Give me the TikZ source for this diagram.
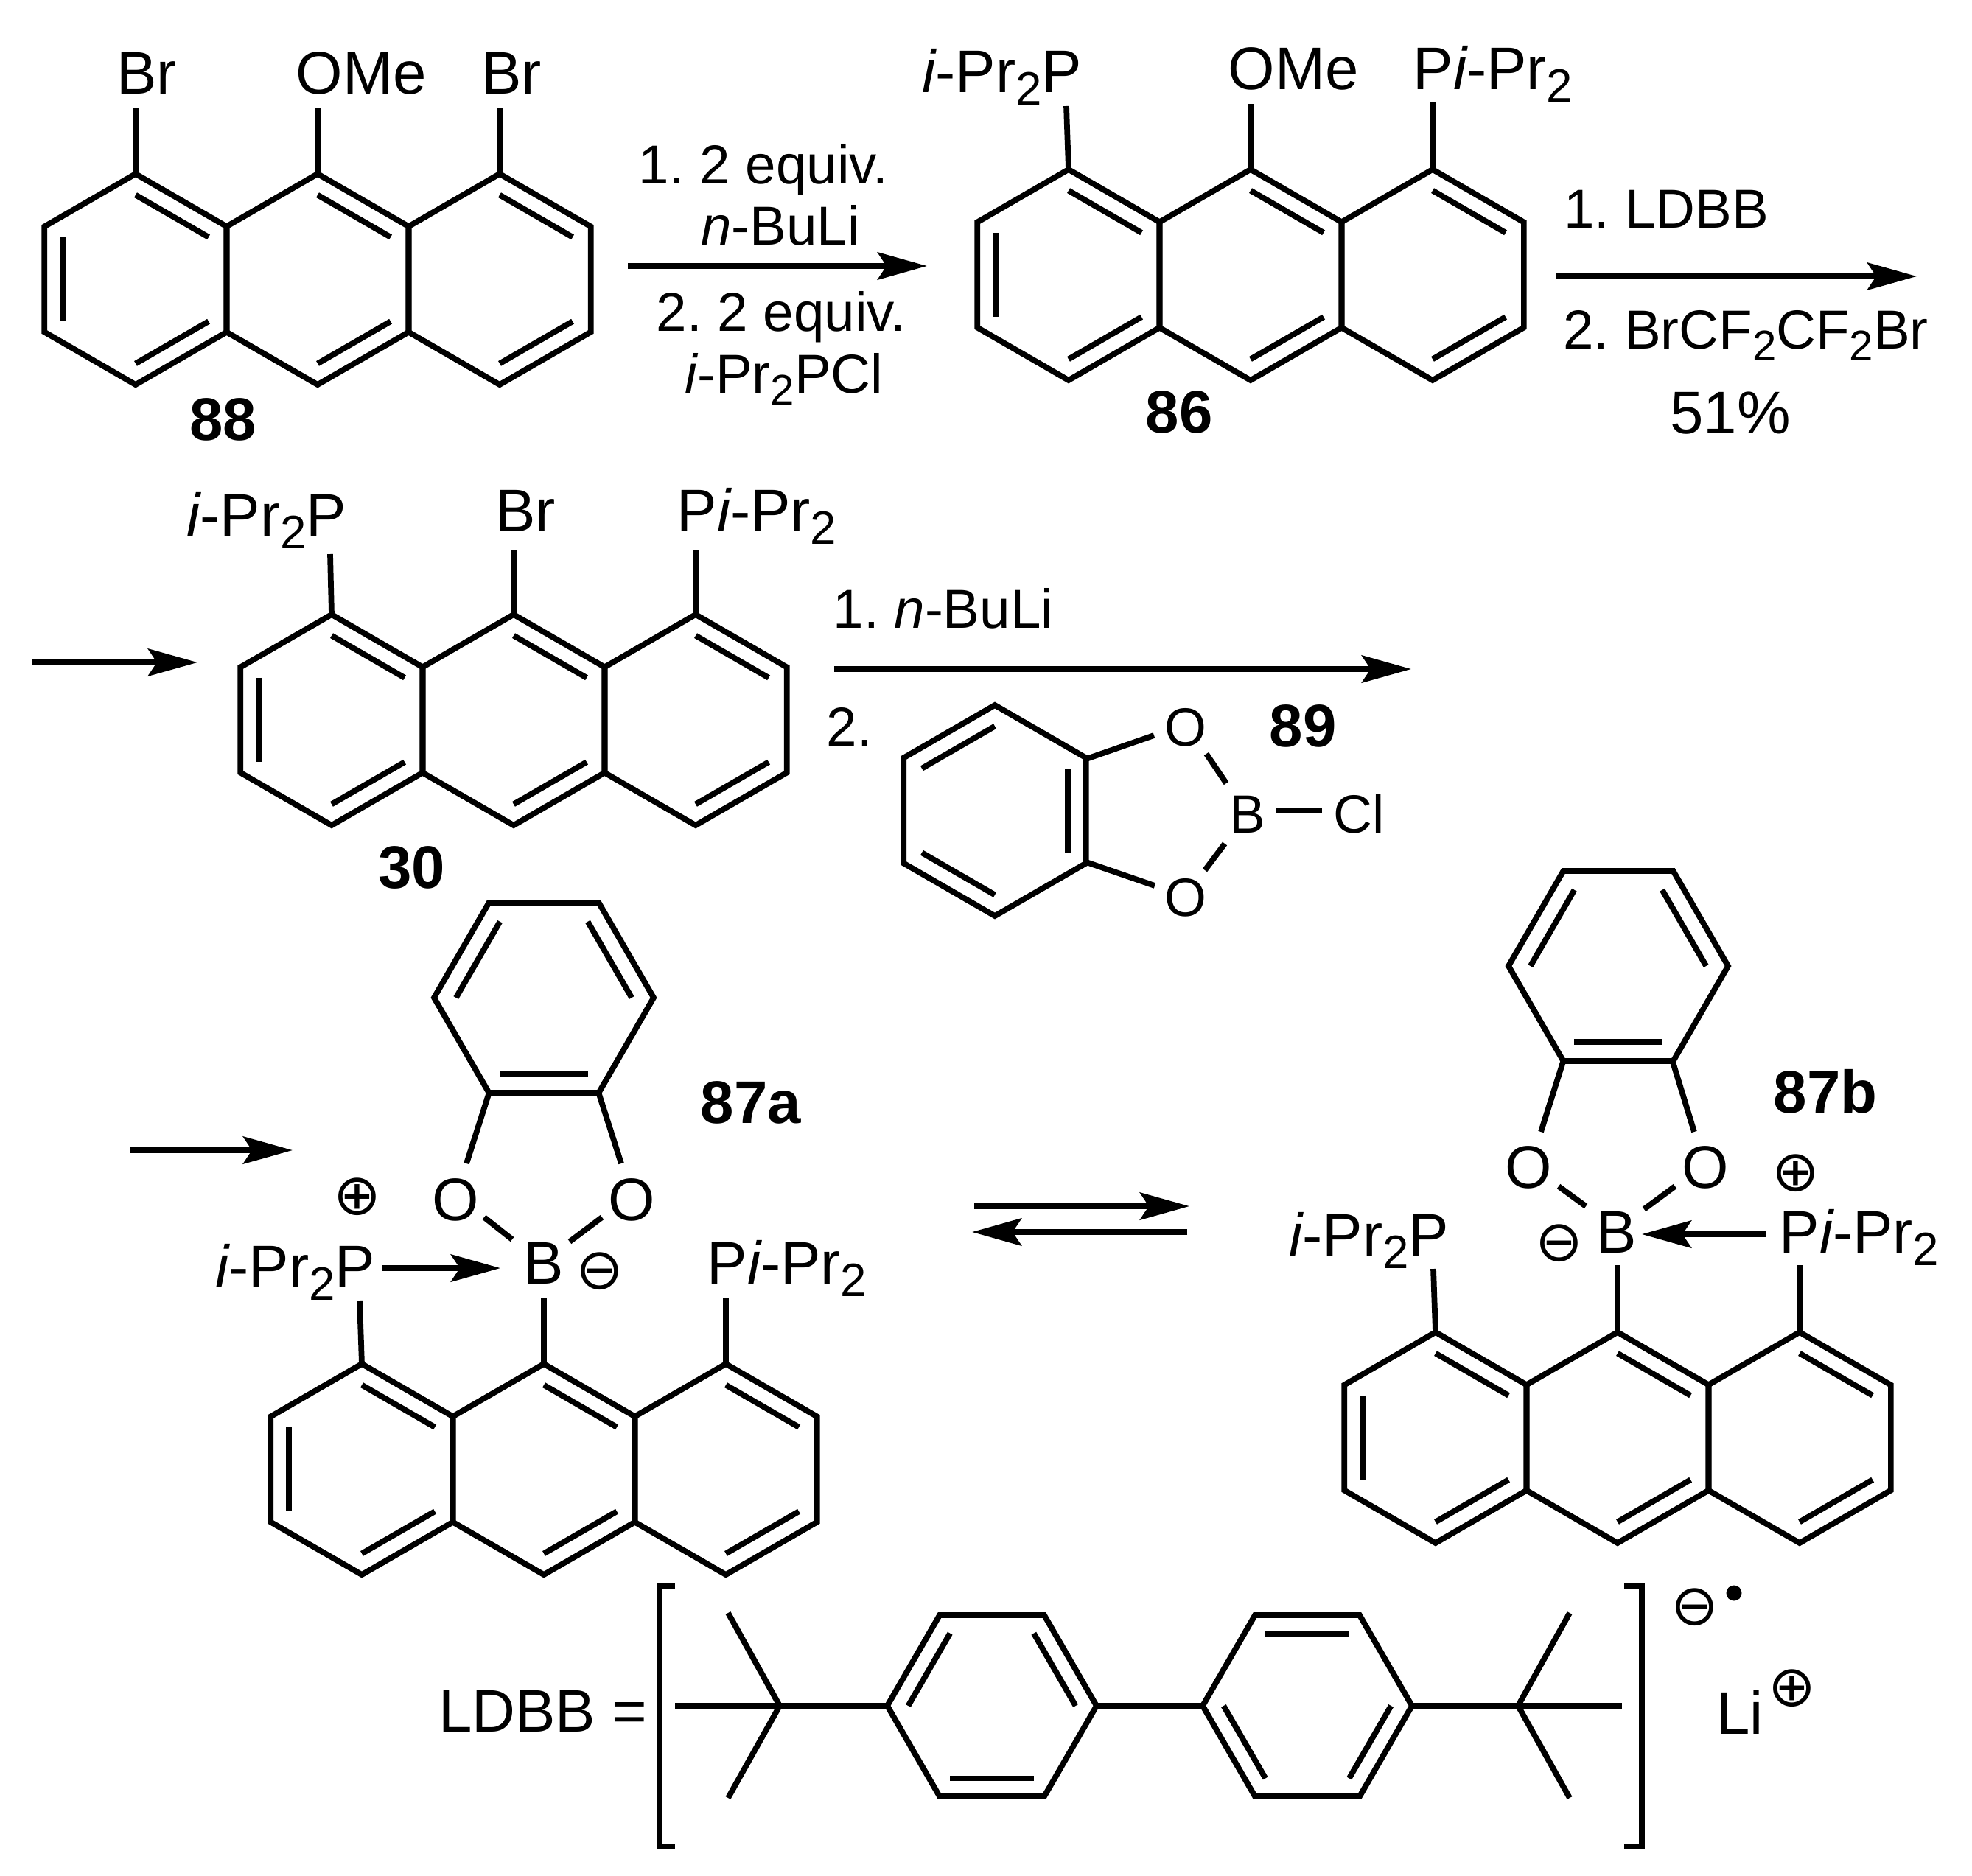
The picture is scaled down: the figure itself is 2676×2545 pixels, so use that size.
\documentclass[tikz,border=0pt]{standalone}
\usepackage{fontspec}
\usetikzlibrary{arrows.meta}
\setmainfont{Liberation Sans}
\newfontfamily\symf{DejaVu Sans}
\AtBeginDocument{\frenchspacing}
\newcommand{\nsb}[1]{\raisebox{-.22em}{\scalebox{.78}{#1}}}
\newcommand{\ipr}{{\itshape i}-Pr\nsb{2}}
\tikzset{
  bondl/.style={line width=2.2pt,line join=miter,black},
  rxn/.style={line width=2.2pt,-{Stealth[length=0.67cm,width=0.37cm,inset=0.12cm]}},
  lab/.style={inner sep=0,anchor=base,font=\fontsize{23.2}{27}\selectfont},
  rgt/.style={inner sep=0,anchor=base,font=\fontsize{21.2}{25}\selectfont},
  atm/.style={inner sep=0,anchor=base,font=\fontsize{20.8}{25}\selectfont},
  cpd/.style={inner sep=0,anchor=base,font=\fontsize{23.2}{27}\selectfont\bfseries},
  chg/.style={inner sep=0,anchor=center,font=\fontsize{22}{25}\selectfont\symf},
}
\newcommand{\hexring}[5]{%
  \begin{scope}[shift={({#1},{-(#2)})}]
    \draw[bondl] (#4:#3) -- ({#4+60}:#3) -- ({#4+120}:#3) -- ({#4+180}:#3) -- ({#4+240}:#3) -- ({#4+300}:#3) -- cycle;
    \foreach \k in {#5} {\draw[bondl] ({#4+60*\k}:{0.8*#3}) -- ({#4+60+60*\k}:{0.8*#3});}
  \end{scope}}
\newcommand{\anth}[2]{%
  \hexring{#1-247}{#2+143}{143}{90}{1,3,5}%
  \hexring{#1}{#2+143}{143}{90}{3,5}%
  \hexring{#1+247}{#2+143}{143}{90}{3,5}}
\begin{document}
\begin{tikzpicture}[x=0.01cm,y=0.01cm]
\useasboundingbox (0,0) rectangle (2676,-2545);
\fill[white] (0,0) rectangle (2676,-2545);

% 88
\anth{431}{236}
\draw[bondl] (184,-236) -- (184,-146);
\draw[bondl] (431,-236) -- (431,-146);
\draw[bondl] (678,-236) -- (678,-146);
\node[lab] (br1) at (199,-127) {Br};
\node[lab] (ome1) at (490,-127) {OMe};
\node[lab] (br2) at (694,-127) {Br};
\node[cpd] (c88) at (303,-597) {88};

% arrow 1
\coordinate (a1s) at (852,-361);
\coordinate (a1e) at (1258,-361);
\draw[rxn] (a1s) -- (a1e);
\node[rgt] (t1a) at (1036,-249) {1. 2 equiv.};
\node[rgt] (t1b) at (1059,-332) {{\itshape n}-BuLi};
\node[rgt] (t1c) at (1060,-449) {2. 2 equiv.};
\node[rgt] (t1d) at (1064,-533) {\ipr PCl};

% 86
\anth{1697}{230}
\draw[bondl] (1450,-230) -- (1447,-144);
\draw[bondl] (1697,-230) -- (1697,-141);
\draw[bondl] (1944,-230) -- (1944,-139);
\node[lab] (p86a) at (1360,-125) {\ipr P};
\node[lab] (ome2) at (1755,-121) {OMe};
\node[lab] (p86b) at (2026,-121) {P\ipr};
\node[cpd] (c86) at (1600,-587) {86};

% arrow 2
\coordinate (a2s) at (2111,-375);
\coordinate (a2e) at (2601,-375);
\draw[rxn] (a2s) -- (a2e);
\node[rgt] (t2a) at (2261,-309) {1. LDBB};
\node[rgt] (t2b) at (2369,-473) {2. BrCF\nsb{2}CF\nsb{2}Br};
\node[lab] (t2c) at (2348,-588) {51\%};

% arrow 3
\coordinate (a3s) at (44,-899);
\coordinate (a3e) at (268,-899);
\draw[rxn] (a3s) -- (a3e);

% 30
\anth{697}{834}
\draw[bondl] (450,-834) -- (448,-752);
\draw[bondl] (697,-834) -- (697,-747);
\draw[bondl] (944,-834) -- (944,-747);
\node[lab] (p30a) at (362,-727) {\ipr P};
\node[lab] (br3) at (713,-721) {Br};
\node[lab] (p30b) at (1027,-721) {P\ipr};
\node[cpd] (c30) at (559,-1205) {30};

% arrow 4 and reagent 89
\coordinate (a4s) at (1132,-908);
\coordinate (a4e) at (1915,-908);
\draw[rxn] (a4s) -- (a4e);
\node[rgt] (t4a) at (1280,-852) {1. {\itshape n}-BuLi};
\node[rgt] (t4b) at (1153,-1012) {2.};
\node[cpd] (c89) at (1768,-1013) {89};
\hexring{1350}{1100}{143}{90}{0,2,4}
\draw[bondl] (1474,-1030) -- (1566,-998);
\draw[bondl] (1474,-1170) -- (1567,-1202);
\draw[bondl] (1637,-1023) -- (1664,-1063);
\draw[bondl] (1662,-1145) -- (1635,-1181);
\draw[bondl] (1731,-1100) -- (1794,-1100);
\node[atm] (o1) at (1609,-1012) {O};
\node[atm] (o2) at (1609,-1243) {O};
\node[atm] (b1) at (1693,-1130) {B};
\node[atm] (cl1) at (1844,-1130) {Cl};

% arrow 5
\coordinate (a5s) at (176,-1561);
\coordinate (a5e) at (397,-1561);
\draw[rxn] (a5s) -- (a5e);

% 87a
\hexring{738}{1354}{149}{0}{0,2,4}
\draw[bondl] (664,-1482) -- (633,-1579);
\draw[bondl] (812,-1482) -- (843,-1579);
\draw[bondl] (657,-1652) -- (695,-1682);
\draw[bondl] (817,-1652) -- (773,-1685);
\node[lab] (o3) at (618,-1656) {O};
\node[lab] (o4) at (857,-1656) {O};
\node[lab] (b2) at (738,-1742) {B};
\node[chg] (m1) at (814,-1725) {⊖};
\node[chg] (q1) at (485,-1624) {⊕};
\node[lab] (p87a) at (401,-1747) {\ipr P};
\node[lab] (p87b) at (1068,-1742) {P\ipr};
\coordinate (a6s) at (518,-1721);
\coordinate (a6e) at (679,-1721);
\draw[rxn] (a6s) -- (a6e);
\node[cpd] (c87a) at (1019,-1524) {87a};
\anth{738}{1851}
\draw[bondl] (491,-1851) -- (488,-1765);
\draw[bondl] (738,-1851) -- (738,-1762);
\draw[bondl] (985,-1851) -- (985,-1762);

% equilibrium
\coordinate (e1s) at (1322,-1637);
\coordinate (e1e) at (1614,-1637);
\coordinate (e2s) at (1611,-1672);
\coordinate (e2e) at (1319,-1672);
\draw[rxn] (e1s) -- (e1e);
\draw[rxn] (e2s) -- (e2e);

% 87b
\hexring{2196}{1311}{149}{0}{0,2,4}
\draw[bondl] (2122,-1438) -- (2091,-1536);
\draw[bondl] (2269,-1438) -- (2299,-1536);
\draw[bondl] (2115,-1610) -- (2152,-1637);
\draw[bondl] (2273,-1610) -- (2231,-1641);
\node[lab] (o5) at (2074,-1612) {O};
\node[lab] (o6) at (2314,-1612) {O};
\node[lab] (b3) at (2194,-1700) {B};
\node[chg] (m2) at (2116,-1687) {⊖};
\node[chg] (q2) at (2437,-1592) {⊕};
\node[lab] (p87c) at (1858,-1704) {\ipr P};
\node[lab] (p87d) at (2523,-1700) {P\ipr};
\coordinate (a7s) at (2396,-1675);
\coordinate (a7e) at (2228,-1675);
\draw[rxn] (a7s) -- (a7e);
\node[cpd] (c87b) at (2477,-1510) {87b};
\anth{2195}{1808}
\draw[bondl] (1948,-1808) -- (1945,-1722);
\draw[bondl] (2195,-1808) -- (2195,-1717);
\draw[bondl] (2442,-1808) -- (2442,-1717);

% LDBB
\node[lab] (ldbb) at (737,-2350) {LDBB =};
\hexring{1346}{2315}{142}{0}{0,2,4}
\hexring{1774}{2315}{142}{0}{1,3,5}
\draw[bondl] (916,-2315) -- (1204,-2315);
\draw[bondl] (988,-2189) -- (1058,-2315) -- (988,-2440);
\draw[bondl] (1488,-2315) -- (1632,-2315);
\draw[bondl] (1916,-2315) -- (2201,-2315);
\draw[bondl] (2130,-2189) -- (2060,-2315) -- (2130,-2440);
\draw[bondl] (916,-2152) -- (895,-2152) -- (895,-2506) -- (916,-2506);
\draw[bondl] (2204,-2152) -- (2228,-2152) -- (2228,-2506) -- (2204,-2506);
\node[chg] (m3) at (2300,-2181) {⊖};
\node[circle,fill=black,inner sep=0,minimum size=0.21cm] (dot) at (2353,-2162) {};
\node[lab] (li) at (2361,-2353) {Li};
\node[chg] (q3) at (2432,-2291) {⊕};
\end{tikzpicture}
\end{document}
